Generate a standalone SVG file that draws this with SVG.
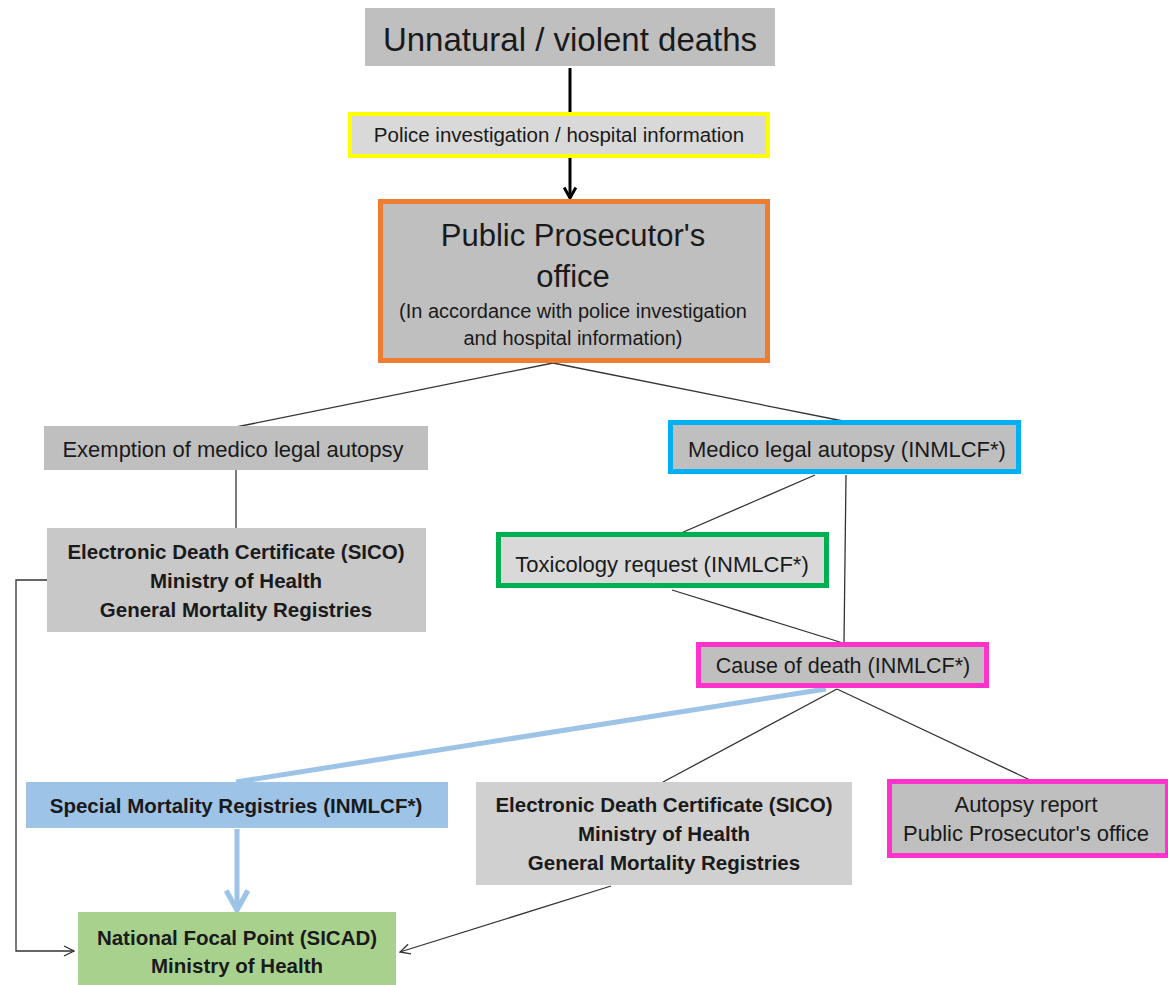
<svg xmlns="http://www.w3.org/2000/svg" width="1168" height="985" viewBox="0 0 1168 985">
<style>
text{font-family:"Liberation Sans",Arial,sans-serif;fill:#1a1a1a;text-anchor:middle}
.b{font-weight:bold}
.ln{stroke:#333;stroke-width:1.3;fill:none}
</style>
<defs>
<marker id="chev" viewBox="0 0 12 12" refX="11" refY="6" markerWidth="12" markerHeight="12" markerUnits="userSpaceOnUse" orient="auto">
<path d="M1,1 L11,6 L1,11" fill="none" stroke="#333" stroke-width="1.3"/>
</marker>
<marker id="chevK" viewBox="0 0 12 12" refX="10" refY="6" markerWidth="14" markerHeight="14" markerUnits="userSpaceOnUse" orient="auto">
<path d="M1,1 L10,6 L1,11" fill="none" stroke="#000" stroke-width="2.5"/>
</marker>
<marker id="chevB" viewBox="0 0 12 12" refX="10" refY="6" markerWidth="26" markerHeight="26" markerUnits="userSpaceOnUse" orient="auto">
<path d="M1,1 L10,6 L1,11" fill="none" stroke="#9dc3e6" stroke-width="2.4"/>
</marker>
</defs>
<rect width="1168" height="985" fill="#fff"/>
<g id="connectors">
<line x1="570" y1="68" x2="570" y2="112" stroke="#000" stroke-width="3"/>
<line x1="570" y1="158" x2="570" y2="198" stroke="#000" stroke-width="3" marker-end="url(#chevK)"/>
<line class="ln" x1="553" y1="363" x2="236" y2="427"/>
<line class="ln" x1="553" y1="363" x2="843" y2="421"/>
<line class="ln" x1="236" y1="470" x2="236" y2="528"/>
<line class="ln" x1="815" y1="475" x2="665" y2="540"/>
<line class="ln" x1="846" y1="475" x2="844" y2="643"/>
<line class="ln" x1="672" y1="590" x2="843" y2="643"/>
<line x1="826" y1="689" x2="236" y2="782" stroke="#9dc3e6" stroke-width="5"/>
<line class="ln" x1="837" y1="689" x2="663" y2="782"/>
<line class="ln" x1="837" y1="689" x2="1030" y2="780"/>
<line x1="237" y1="829" x2="237" y2="910" stroke="#9dc3e6" stroke-width="5" marker-end="url(#chevB)"/>
<polyline class="ln" points="47,580 16,580 16,951 74,951" marker-end="url(#chev)"/>
<line class="ln" x1="611" y1="886" x2="400" y2="952" marker-end="url(#chev)"/>
</g>
<g id="n1">
<rect x="365" y="8" width="410" height="58" fill="#bfbfbf"/>
<text x="570" y="51" font-size="33">Unnatural / violent deaths</text>
</g>
<g id="n2">
<rect x="350" y="114" width="418" height="42" fill="#d9d9d9" stroke="#ffff00" stroke-width="4"/>
<text x="559" y="142" font-size="20.5">Police investigation / hospital information</text>
</g>
<g id="n3">
<rect x="380.5" y="201.5" width="387" height="159" fill="#bfbfbf" stroke="#ed7d31" stroke-width="5"/>
<text x="573" y="246" font-size="31">Public Prosecutor's</text>
<text x="573" y="287" font-size="31">office</text>
<text x="573" y="318" font-size="20">(In accordance with police investigation</text>
<text x="573" y="345" font-size="20">and hospital information)</text>
</g>
<g id="n4">
<rect x="44" y="426" width="384" height="44" fill="#bfbfbf"/>
<text x="233" y="457" font-size="22">Exemption of medico legal autopsy</text>
</g>
<g id="n5">
<rect x="47" y="528" width="379" height="104" fill="#c8c8c8"/>
<text class="b" x="236" y="559" font-size="20.5">Electronic Death Certificate (SICO)</text>
<text class="b" x="236" y="588" font-size="20.5">Ministry of Health</text>
<text class="b" x="236" y="617" font-size="20.5">General Mortality Registries</text>
</g>
<g id="n6">
<rect x="670.5" y="422.5" width="348" height="49" fill="#bfbfbf" stroke="#00b0f0" stroke-width="5"/>
<text x="847" y="457" font-size="22">Medico legal autopsy (INMLCF*)</text>
</g>
<g id="n7">
<rect x="498.5" y="534.5" width="328" height="51" fill="#d9d9d9" stroke="#00b050" stroke-width="5"/>
<text x="662" y="572" font-size="22">Toxicology request (INMLCF*)</text>
</g>
<g id="n8">
<rect x="698.5" y="644.5" width="288" height="41" fill="#bfbfbf" stroke="#ff33cc" stroke-width="5"/>
<text x="843" y="673" font-size="21.5">Cause of death (INMLCF*)</text>
</g>
<g id="n9">
<rect x="26" y="782" width="422" height="46" fill="#9dc3e6"/>
<text class="b" x="236" y="813" font-size="20.5">Special Mortality Registries (INMLCF*)</text>
</g>
<g id="n10">
<rect x="476" y="782" width="376" height="103" fill="#d0d0d0"/>
<text class="b" x="664" y="812" font-size="20.5">Electronic Death Certificate (SICO)</text>
<text class="b" x="664" y="841" font-size="20.5">Ministry of Health</text>
<text class="b" x="664" y="870" font-size="20.5">General Mortality Registries</text>
</g>
<g id="n11">
<rect x="889.5" y="781.5" width="278" height="74" fill="#bfbfbf" stroke="#ff33cc" stroke-width="5"/>
<text x="1026" y="812" font-size="22">Autopsy report</text>
<text x="1026" y="841" font-size="22">Public Prosecutor's office</text>
</g>
<g id="n12">
<rect x="78" y="912" width="318" height="73" fill="#a9d18e"/>
<text class="b" x="237" y="945" font-size="20.5">National Focal Point (SICAD)</text>
<text class="b" x="237" y="973" font-size="20.5">Ministry of Health</text>
</g>
</svg>
